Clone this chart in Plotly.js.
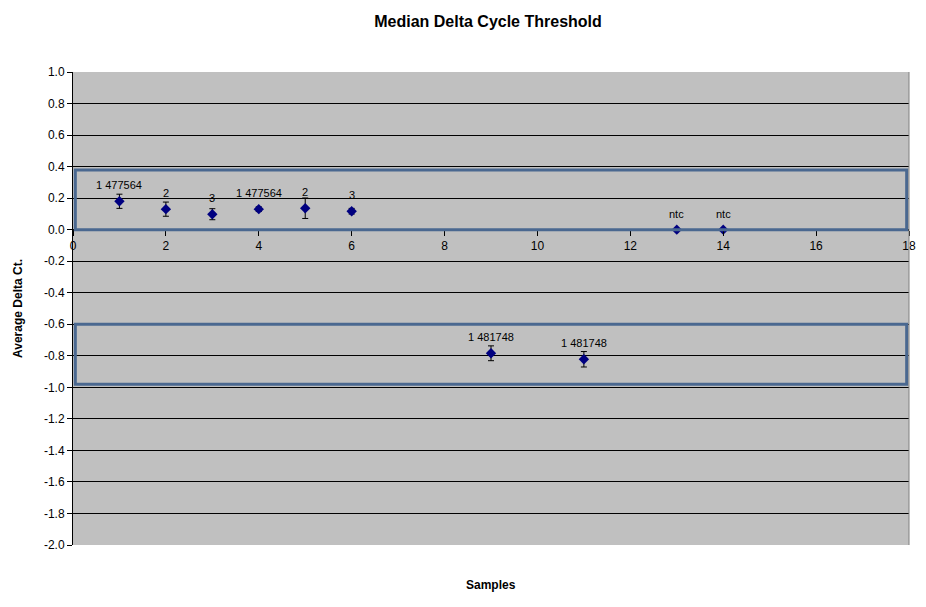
<!DOCTYPE html>
<html>
<head>
<meta charset="utf-8">
<script src="https://cdn.plot.ly/plotly-3.0.1.min.js"></script>
<style>html,body{margin:0;padding:0;background:#fff;}#chart{width:926px;height:607px;}</style>
</head>
<body>
<div id="chart"></div>
<script>
const samples = [1, 2, 3, 4, 5, 6, 9, 11, 13, 14];
const deltaCt = [0.18, 0.13, 0.098, 0.13, 0.136, 0.117, -0.784, -0.822, 0.0, 0.0];
const errors = [0.045, 0.045, 0.035, 0.015, 0.065, 0.018, 0.047, 0.049, 0, 0];
const labels = ['1 477564', '2', '3', '1 477564', '2', '3', '1 481748', '1 481748', 'ntc', 'ntc'];
const yTicks = [1.0, 0.8, 0.6, 0.4, 0.2, 0.0, -0.2, -0.4, -0.6, -0.8, -1.0, -1.2, -1.4, -1.6, -1.8, -2.0];
const yTickText = yTicks.map(v => v.toFixed(1));
const boxes = [[0.378, 0.0], [-0.6, -0.98]];

const trace = {
  x: samples, y: deltaCt, type: 'scatter', mode: 'markers',
  marker: {symbol: 'diamond', size: 8, color: '#000080'},
  error_y: {type: 'data', array: errors, visible: true, color: '#000000', thickness: 1, width: 3},
  hoverinfo: 'skip', showlegend: false
};

const annotations = samples.map((s, i) => ({
  x: s, y: deltaCt[i], xref: 'x', yref: 'y', text: labels[i], showarrow: false,
  yshift: 16, font: {family: 'Liberation Sans, Arial, sans-serif', size: 11, color: '#000'}
}));
annotations.push({
  xref: 'paper', yref: 'paper', x: 0.5, y: -0.085, yanchor: 'middle', text: '<b>Samples</b>',
  showarrow: false, font: {family: 'Liberation Sans, Arial, sans-serif', size: 12, color: '#000'}
});

const shapes = boxes.map(b => ({
  type: 'rect', xref: 'x', yref: 'y', x0: 0.05, x1: 17.95, y0: b[1], y1: b[0],
  line: {color: '#4a6890', width: 3}, fillcolor: 'rgba(0,0,0,0)'
}));
shapes.push({type: 'line', xref: 'paper', yref: 'paper', x0: 1, x1: 1, y0: 0, y1: 1, line: {color: '#808080', width: 1}});

const layout = {
  width: 926, height: 607,
  margin: {l: 73, r: 17, t: 72, b: 62},
  paper_bgcolor: '#ffffff', plot_bgcolor: '#c0c0c0',
  font: {family: 'Liberation Sans, Arial, sans-serif', size: 12, color: '#000'},
  title: {text: '<b>Median Delta Cycle Threshold</b>', x: 0.527, xanchor: 'center', y: 0.965, yanchor: 'middle',
          font: {family: 'Liberation Sans, Arial, sans-serif', size: 16, color: '#000'}},
  xaxis: {
    range: [0, 18], dtick: 2, tick0: 0, anchor: 'free', position: 2/3,
    showgrid: false, zeroline: false, showline: true, linecolor: '#000', linewidth: 1,
    ticks: 'outside', ticklen: 5, tickcolor: '#000', tickfont: {size: 12},
    fixedrange: true
  },
  yaxis: {
    range: [-2, 1], tickmode: 'array', tickvals: yTicks, ticktext: yTickText,
    showgrid: true, gridcolor: '#000', gridwidth: 1, zeroline: false,
    showline: true, linecolor: '#000', linewidth: 1,
    ticks: 'outside', ticklen: 5, tickcolor: '#000', tickfont: {size: 12},
    title: {text: '<b>Average Delta Ct.</b>', standoff: 18, font: {size: 12}},
    fixedrange: true
  },
  shapes: shapes,
  annotations: annotations
};

Plotly.newPlot('chart', [trace], layout, {displayModeBar: false, staticPlot: true});
</script>
</body>
</html>
